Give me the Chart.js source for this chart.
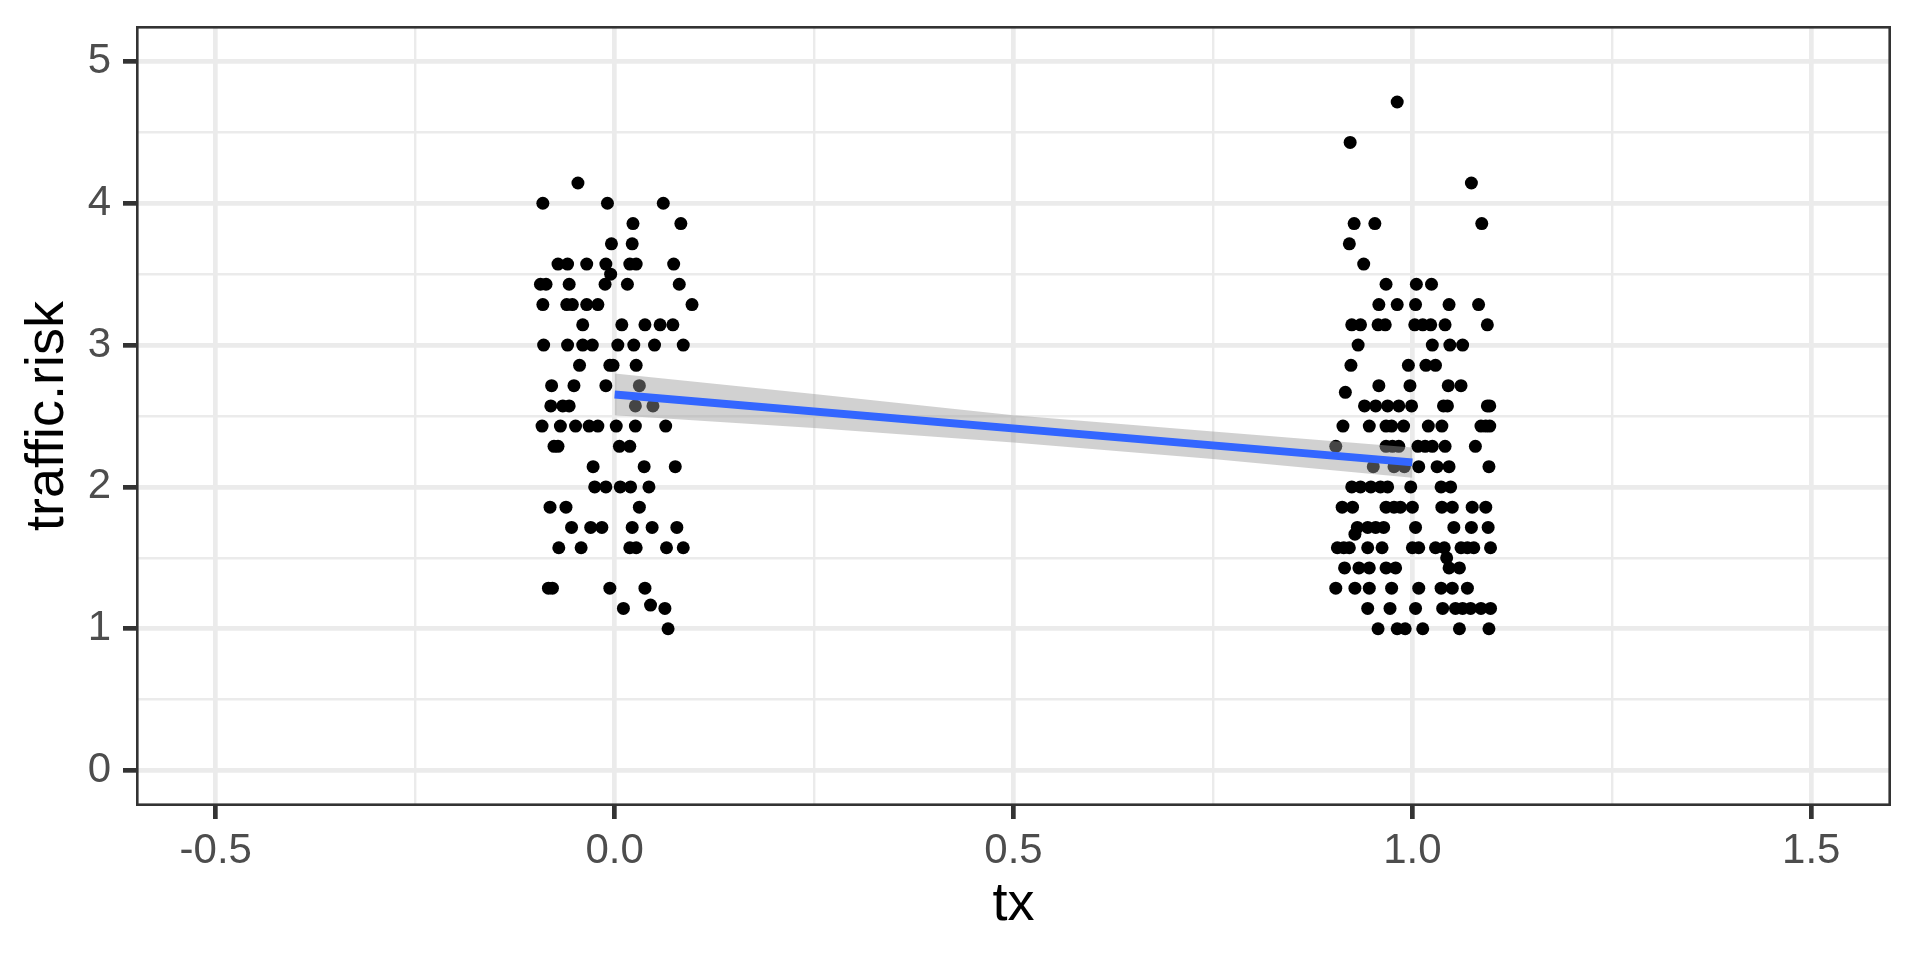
<!DOCTYPE html>
<html>
<head>
<meta charset="utf-8">
<script src="https://cdn.jsdelivr.net/npm/chart.js@4"></script>
<style>
  html, body { margin: 0; padding: 0; background: #ffffff; }
  #wrap { width: 1920px; height: 960px; }
</style>
</head>
<body>
<div id="wrap"><canvas id="riskChart" width="1920" height="960"></canvas></div>
<script>
// Jittered points, tx = 0 (one line per traffic.risk row)
const group0X = [
  -0.046,
  -0.090, -0.009, 0.061,
  0.023, 0.083,
  -0.004, 0.022,
  -0.071, -0.059, -0.035, -0.011, 0.019, 0.027, 0.074,
  -0.005,
  -0.093, -0.086, -0.057, -0.012, 0.016, 0.081,
  -0.090, -0.060, -0.053, -0.035, -0.021, 0.097,
  -0.040, 0.009, 0.038, 0.057, 0.073,
  -0.089, -0.059, -0.040, -0.028, 0.004, 0.024, 0.050, 0.086,
  -0.044, -0.006, -0.002, 0.027,
  -0.079, -0.051, -0.011, 0.031,
  -0.080, -0.065, -0.057, 0.026, 0.048,
  -0.091, -0.068, -0.049, -0.032, -0.021, 0.002, 0.026, 0.064,
  -0.076, -0.071, 0.006, 0.019,
  -0.027, 0.037, 0.076,
  -0.025, -0.011, 0.007, 0.020, 0.043,
  -0.081, -0.061, 0.031,
  -0.054, -0.030, -0.016, 0.022, 0.047, 0.078,
  -0.070, -0.042, 0.019, 0.027, 0.065, 0.086,
  -0.083, -0.078, -0.006, 0.038,
  0.011, 0.045, 0.063,
  0.067
];
const group0Y = [
  4.143,
  4, 4, 4,
  3.857, 3.857,
  3.714, 3.714,
  3.571, 3.571, 3.571, 3.571, 3.571, 3.571, 3.571,
  3.5,
  3.429, 3.429, 3.429, 3.429, 3.429, 3.429,
  3.286, 3.286, 3.286, 3.286, 3.286, 3.286,
  3.143, 3.143, 3.143, 3.143, 3.143,
  3, 3, 3, 3, 3, 3, 3, 3,
  2.857, 2.857, 2.857, 2.857,
  2.714, 2.714, 2.714, 2.714,
  2.571, 2.571, 2.571, 2.571, 2.571,
  2.429, 2.429, 2.429, 2.429, 2.429, 2.429, 2.429, 2.429,
  2.286, 2.286, 2.286, 2.286,
  2.143, 2.143, 2.143,
  2, 2, 2, 2, 2,
  1.857, 1.857, 1.857,
  1.714, 1.714, 1.714, 1.714, 1.714, 1.714,
  1.571, 1.571, 1.571, 1.571, 1.571, 1.571,
  1.286, 1.286, 1.286, 1.286,
  1.143, 1.167, 1.143,
  1
];

// Jittered points, tx = 1
const group1X = [
  0.981,
  0.922,
  1.074,
  0.927, 0.953, 1.087,
  0.921,
  0.939,
  0.967, 1.005, 1.024,
  0.958, 0.981, 1.004, 1.046, 1.083,
  0.924, 0.935, 0.957, 0.966, 1.003, 1.013, 1.023, 1.041, 1.094,
  0.932, 1.025, 1.047, 1.063,
  0.923, 0.995, 1.017, 1.029,
  0.958, 0.997, 1.045, 1.061,
  0.916,
  0.940, 0.954, 0.969, 0.983, 0.999, 1.039, 1.044, 1.094, 1.097,
  0.913, 0.946, 0.967, 0.974, 0.989, 1.020, 1.037, 1.086, 1.092, 1.097,
  0.904, 0.967, 0.975, 0.983, 1.007, 1.016, 1.025, 1.041, 1.079,
  0.951, 0.977, 0.990, 1.008, 1.031, 1.046, 1.096,
  0.924, 0.935, 0.948, 0.960, 0.969, 0.998, 1.036, 1.048,
  0.912, 0.925, 0.967, 0.977, 0.985, 1.000, 1.037, 1.050, 1.075, 1.092,
  0.931, 0.944, 0.954, 0.964, 1.004, 1.052, 1.074, 1.095,
  0.928,
  0.906, 0.914, 0.921, 0.944, 0.962, 1.000, 1.008, 1.029, 1.040, 1.061, 1.069, 1.077, 1.098,
  1.043,
  0.915, 0.933, 0.946, 0.967, 0.979, 1.046, 1.059,
  0.904, 0.928, 0.946, 0.974, 1.008, 1.036, 1.050, 1.069,
  0.944, 0.972, 1.004, 1.038, 1.054, 1.063, 1.073, 1.086, 1.098,
  0.957, 0.981, 0.991, 1.013, 1.059, 1.096
];
const group1Y = [
  4.714,
  4.429,
  4.143,
  3.857, 3.857, 3.857,
  3.714,
  3.571,
  3.429, 3.429, 3.429,
  3.286, 3.286, 3.286, 3.286, 3.286,
  3.143, 3.143, 3.143, 3.143, 3.143, 3.143, 3.143, 3.143, 3.143,
  3, 3, 3, 3,
  2.857, 2.857, 2.857, 2.857,
  2.714, 2.714, 2.714, 2.714,
  2.667,
  2.571, 2.571, 2.571, 2.571, 2.571, 2.571, 2.571, 2.571, 2.571,
  2.429, 2.429, 2.429, 2.429, 2.429, 2.429, 2.429, 2.429, 2.429, 2.429,
  2.286, 2.286, 2.286, 2.286, 2.286, 2.286, 2.286, 2.286, 2.286,
  2.143, 2.143, 2.143, 2.143, 2.143, 2.143, 2.143,
  2, 2, 2, 2, 2, 2, 2, 2,
  1.857, 1.857, 1.857, 1.857, 1.857, 1.857, 1.857, 1.857, 1.857, 1.857,
  1.714, 1.714, 1.714, 1.714, 1.714, 1.714, 1.714, 1.714,
  1.667,
  1.571, 1.571, 1.571, 1.571, 1.571, 1.571, 1.571, 1.571, 1.571, 1.571, 1.571, 1.571, 1.571,
  1.5,
  1.429, 1.429, 1.429, 1.429, 1.429, 1.429, 1.429,
  1.286, 1.286, 1.286, 1.286, 1.286, 1.286, 1.286, 1.286,
  1.143, 1.143, 1.143, 1.143, 1.143, 1.143, 1.143, 1.143, 1.143,
  1, 1, 1, 1, 1, 1
];

// lm fit and its confidence band
const fitX = [0, 1];
const fitY = [2.652, 2.173];
const bandX = [0, 0.25, 0.5, 0.75, 1];
const bandUpper = [2.800, 2.655, 2.506, 2.391, 2.278];
const bandLower = [2.505, 2.415, 2.314, 2.196, 2.065];

// Axis breaks
const xTickValues = [-0.5, 0, 0.5, 1, 1.5];
const xTickLabels = ['-0.5', '0.0', '0.5', '1.0', '1.5'];
const xMinorValues = [-0.25, 0.25, 0.75, 1.25];
const yTickValues = [0, 1, 2, 3, 4, 5];
const yTickLabels = ['0', '1', '2', '3', '4', '5'];
const yMinorValues = [0.5, 1.5, 2.5, 3.5, 4.5];

const toPoints = (xs, ys) => xs.map((x, i) => ({ x: x, y: ys[i] }));

Chart.defaults.font.family = "'Liberation Sans', Arial, Helvetica, sans-serif";

// panel border on all four sides, like theme_bw
const panelBorder = {
    id: 'panelBorder',
    afterDatasetsDraw(chart) {
        const { ctx, chartArea: a } = chart;
        ctx.save();
        ctx.strokeStyle = '#333333';
        ctx.lineWidth = 2.6;
        ctx.strokeRect(a.left + 1.3, a.top + 1.3, a.right - a.left - 2.6, a.bottom - a.top - 2.6);
        ctx.restore();
    }
};

function axisOptions(min, max, majors, labels, minors, title, titlePadding, tickPadding, fit) {
    const isMajor = v => majors.indexOf(v) >= 0;
    return {
        type: 'linear',
        min: min,
        max: max,
        afterBuildTicks: s => {
            s.ticks = majors.concat(minors).sort((a, b) => a - b).map(v => ({ value: v }));
        },
        afterFit: fit,
        border: { display: false },
        grid: {
            color: '#EBEBEB',
            lineWidth: c => (c.tick && isMajor(c.tick.value)) ? 4.7 : 2.4,
            tickColor: c => (c.tick && isMajor(c.tick.value)) ? '#333333' : 'rgba(0,0,0,0)',
            tickWidth: 4.7,
            tickLength: 13
        },
        ticks: {
            autoSkip: false,
            maxRotation: 0,
            padding: tickPadding,
            color: '#4D4D4D',
            font: { size: 42 },
            callback: v => {
                const i = majors.indexOf(v);
                return i >= 0 ? labels[i] : '';
            }
        },
        title: {
            display: true,
            text: title,
            color: '#000000',
            font: { size: 54 },
            padding: titlePadding
        }
    };
}

new Chart(document.getElementById('riskChart').getContext('2d'), {
    type: 'scatter',
    data: {
        datasets: [
            {
                type: 'line',
                data: toPoints(fitX, fitY),
                borderColor: '#3366FF',
                borderWidth: 8,
                pointRadius: 0,
                fill: false,
                order: 0
            },
            {
                type: 'line',
                data: toPoints(bandX, bandUpper),
                borderColor: 'rgba(0,0,0,0)',
                borderWidth: 0,
                pointRadius: 0,
                backgroundColor: 'rgba(153,153,153,0.45)',
                fill: '+1',
                order: 1
            },
            {
                type: 'line',
                data: toPoints(bandX, bandLower),
                borderColor: 'rgba(0,0,0,0)',
                borderWidth: 0,
                pointRadius: 0,
                fill: false,
                order: 2
            },
            {
                type: 'scatter',
                data: toPoints(group0X, group0Y).concat(toPoints(group1X, group1Y)),
                backgroundColor: '#000000',
                borderWidth: 0,
                pointRadius: 6.5,
                pointHoverRadius: 6.5,
                order: 3
            }
        ]
    },
    options: {
        responsive: false,
        animation: false,
        devicePixelRatio: 1,
        layout: { padding: { left: 0, right: 29, top: 26, bottom: 0 } },
        plugins: {
            legend: { display: false },
            tooltip: { enabled: false }
        },
        scales: {
            x: axisOptions(-0.6, 1.6, xTickValues, xTickLabels, xMinorValues, 'tx',
                { top: 0, bottom: 22 }, 7,
                s => { s.height = 154; s.paddingLeft = 0; s.paddingRight = 0; }),
            y: axisOptions(-0.25, 5.25, yTickValues, yTickLabels, yMinorValues, 'traffic.risk',
                { top: 16, bottom: 0 }, 12,
                s => { s.width = 136; s.paddingTop = 0; s.paddingBottom = 0; })
        }
    },
    plugins: [panelBorder]
});
</script>
</body>
</html>
